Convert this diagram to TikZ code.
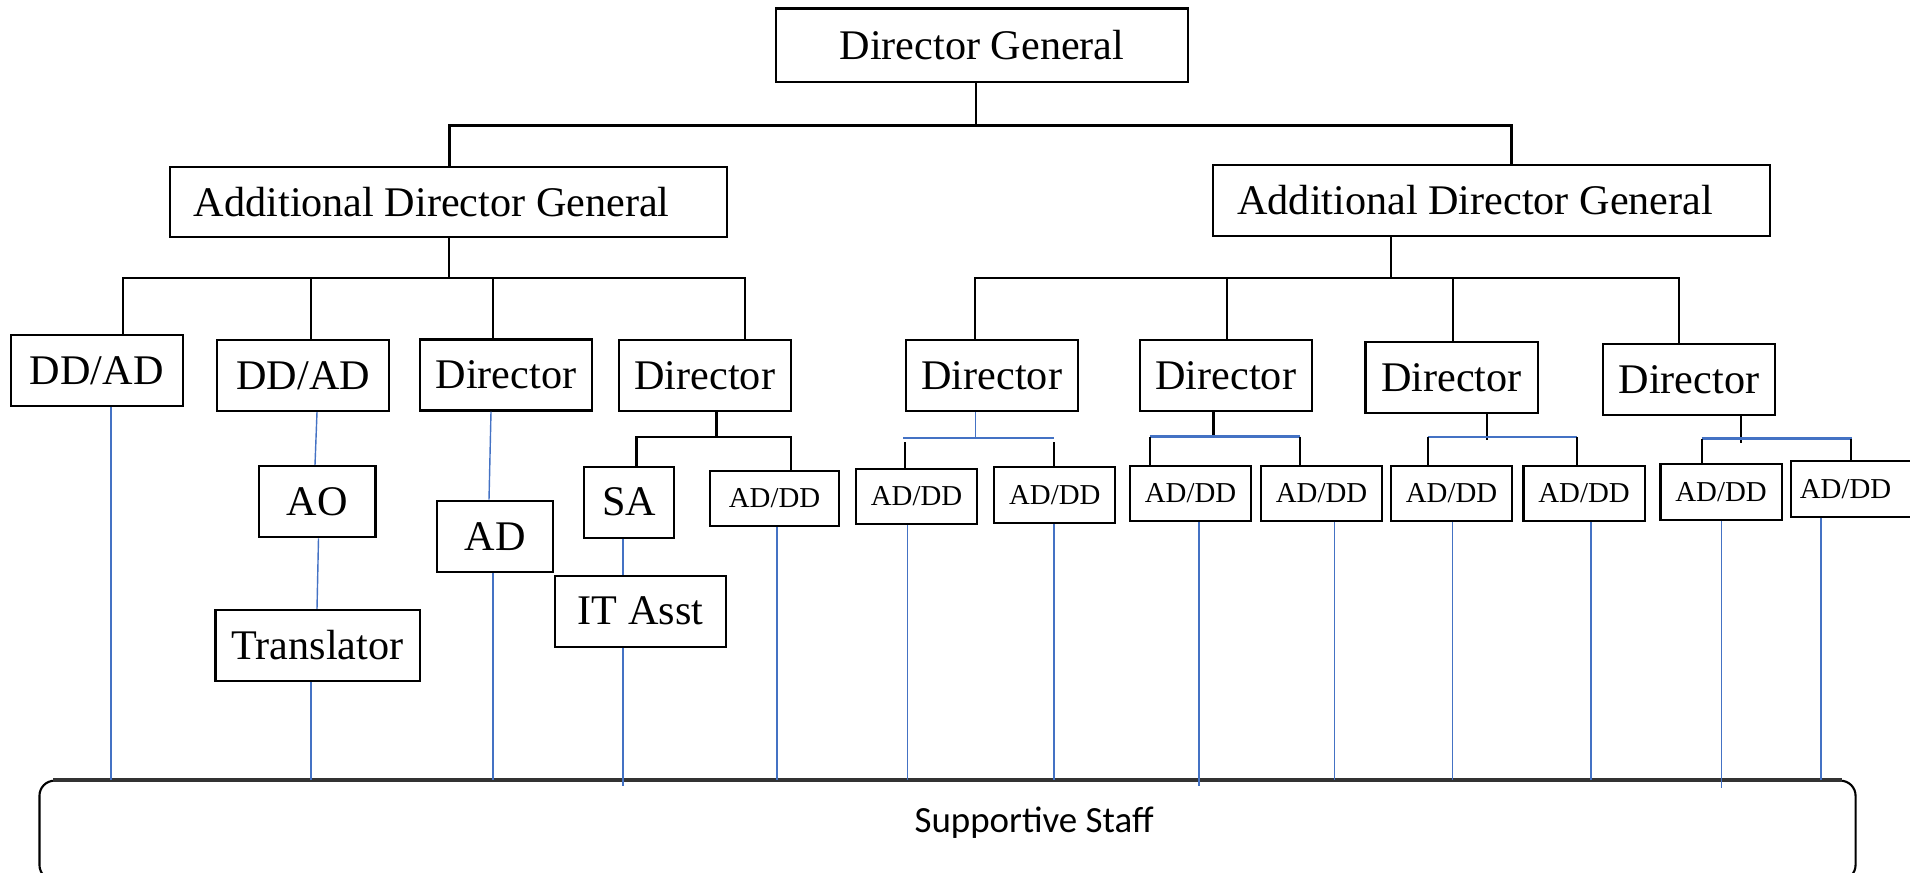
\documentclass[tikz,border=0pt]{standalone}
\usepackage{fontspec}
\setmainfont{Liberation Serif}
\newfontfamily\staffFont{Carlito}
\definecolor{linkblue}{HTML}{4472C4}
\begin{document}
\begin{tikzpicture}[x=0.01cm,y=-0.01cm,
  box/.style={draw, line width=0.6pt, inner sep=0pt, font=\fontsize{12}{14}\selectfont},
  midbox/.style={box, minimum width=1.72cm, minimum height=0.71cm},
  smallbox/.style={box, font=\fontsize{8.2}{10}\selectfont, minimum width=1.21cm, minimum height=0.55cm},
  blk/.style={line width=0.6pt},
  blu/.style={draw=linkblue, line width=0.4pt},
  bluebus/.style={draw=linkblue, line width=0.7pt}]
\useasboundingbox (0,0) rectangle (1910,872);
\clip (0,0) rectangle (1910,872);

% --- top levels ---
\node[box, minimum width=4.12cm, minimum height=0.735cm] (dg) at (982,45.25) {Director General};
\node[box, minimum width=5.565cm, minimum height=0.70cm] (adgL) at (448.75,202) {\hspace*{-0.34cm}Additional Director General};
\node[box, minimum width=5.565cm, minimum height=0.71cm] (adgR) at (1491.25,200.5) {\hspace*{-0.32cm}Additional Director General};

% --- third level ---
\node[midbox] (ddadA) at (96.75,370.5) {DD/AD};
\node[midbox] (ddadB) at (303.3,375.5) {DD/AD};
\node[midbox] (dirA) at (506,375) {Director};
\node[midbox] (dirB) at (704.75,375.5) {Director};
\node[midbox] (dirC) at (991.75,375.5) {Director};
\node[midbox] (dirD) at (1225.75,375.5) {Director};
\node[midbox] (dirE) at (1451.5,377.8) {Director};
\node[midbox] (dirF) at (1689,379.8) {Director};

% --- fourth level, left wing ---
\node[box, minimum width=1.165cm, minimum height=0.713cm] (ao) at (317.25,501.6) {AO};
\node[box, minimum width=2.04cm, minimum height=0.71cm] (trans) at (317.5,645.5) {Translator};
\node[box, minimum width=1.16cm, minimum height=0.71cm] (ad) at (495,536.2) {AD};
\node[box, minimum width=0.90cm, minimum height=0.71cm] (sa) at (629,502.2) {SA};
\node[box, minimum width=1.71cm, minimum height=0.71cm] (itasst) at (640.5,611.2) {IT Asst};
\node[smallbox, minimum width=1.29cm, minimum height=0.553cm] (addL) at (774.5,498.6) {AD/DD};

% --- fourth level, right wing ---
\node[smallbox] (r1) at (916.5,496.5) {AD/DD};
\node[smallbox, minimum height=0.56cm] (r2) at (1054.75,495) {AD/DD};
\node[smallbox] (r3) at (1190.5,493.5) {AD/DD};
\node[smallbox] (r4) at (1321.5,493.5) {AD/DD};
\node[smallbox] (r5) at (1451.5,493.5) {AD/DD};
\node[smallbox] (r6) at (1584,493.5) {AD/DD};
\node[smallbox, minimum height=0.56cm] (r7) at (1721,492) {AD/DD};
\node[smallbox, minimum height=0.56cm] (r8) at (1851.5,489) {\hspace*{-0.12cm}AD/DD};

% --- supportive staff ---
\node[draw, line width=0.6pt, rounded corners=0.15cm, minimum width=18.15cm, minimum height=0.993cm, inner sep=0pt,
      label={[font=\staffFont\fontsize{10.5}{12}\selectfont, xshift=0.865cm, yshift=0.08cm]center:Supportive Staff}]
      (staff) at (947.5,830.35) {};
% heavier top rule of the staff box
\draw[line width=1.1pt, black!80] ([xshift=0.15cm]staff.north west) -- ([xshift=-0.15cm]staff.north east);

% --- Director General to the two ADGs ---
\draw[blk] (976,0 |- dg.south) -- (976,125.5);
\draw[blk] (449.5,0 |- adgL.north) |- (1511.5,125.5) -- (1511.5,0 |- adgR.north);

% --- left ADG to its four heads ---
\draw[blk] (449,0 |- adgL.south) -- (449,278.3);
\draw[blk] (123,0 |- ddadA.north) |- (745,278.3) -- (745,0 |- dirB.north);
\draw[blk] (311,278.3) -- (311,0 |- ddadB.north);
\draw[blk] (493,278.3) -- (493,0 |- dirA.north);

% --- right ADG to its four directors ---
\draw[blk] (1390.8,0 |- adgR.south) -- (1390.8,278.3);
\draw[blk] (975,0 |- dirC.north) |- (1678.6,278.3) -- (1678.6,0 |- dirF.north);
\draw[blk] (1227,278.3) -- (1227,0 |- dirD.north);
\draw[blk] (1452.6,278.3) -- (1452.6,0 |- dirE.north);

% --- director (left wing) to SA and AD/DD ---
\draw[blk] (716.5,0 |- dirB.south) -- (716.5,436.7);
\draw[blk] (636.5,0 |- sa.north) |- (790.8,436.7) -- (790.8,0 |- addL.north);

% --- right-wing directors to their AD/DD pairs ---
\draw[blu] (975.7,0 |- dirC.south) -- (975.7,438);
\draw[bluebus] (903.4,438) -- (1054,438);
\draw[blk] (904.8,442) -- (904.8,0 |- r1.north);
\draw[blk] (1054,442) -- (1054,0 |- r2.north);

\draw[blk] (1213.5,0 |- dirD.south) -- (1213.5,436.7);
\draw[bluebus] (1149.5,436.7) -- (1299.7,436.7);
\draw[blk] (1150,436.7) -- (1150,0 |- r3.north);
\draw[blk] (1299.7,436.7) -- (1299.7,0 |- r4.north);

\draw[blk] (1487,0 |- dirE.south) -- (1487,440);
\draw[bluebus] (1427.6,437) -- (1577,437);
\draw[blk] (1428,437) -- (1428,0 |- r5.north);
\draw[blk] (1577,437) -- (1577,0 |- r6.north);

\draw[blk] (1741,0 |- dirF.south) -- (1741,443);
\draw[bluebus] (1701.5,438.7) -- (1852,438.7);
\draw[blk] (1702,438.7) -- (1702,0 |- r7.north);
\draw[blk] (1851,438.7) -- (1851,0 |- r8.north);

% --- reporting lines down to supportive staff ---
\draw[blu] (110.9,0 |- ddadA.south) -- (110.9,0 |- staff.north);
\draw[blu] (317,0 |- ddadB.south) -- (315,0 |- ao.north);
\draw[blu] (318.5,0 |- ao.south) -- (317,0 |- trans.north);
\draw[blu] (311,0 |- trans.south) -- (311,0 |- staff.north);
\draw[blu] (491,0 |- dirA.south) -- (489,0 |- ad.north);
\draw[blu] (493,0 |- ad.south) -- (493,0 |- staff.north);
\draw[blu] (623,0 |- sa.south) -- (623,0 |- itasst.north);
\draw[blu] (623,0 |- itasst.south) -- (623,786);
\draw[blu] (777,0 |- addL.south) -- (777,0 |- staff.north);
\draw[blu] (907.6,0 |- r1.south) -- (907.6,0 |- staff.north);
\draw[blu] (1054,0 |- r2.south) -- (1054,0 |- staff.north);
\draw[blu] (1199,0 |- r3.south) -- (1199,786);
\draw[blu] (1334.5,0 |- r4.south) -- (1334.5,0 |- staff.north);
\draw[blu] (1452.6,0 |- r5.south) -- (1452.6,0 |- staff.north);
\draw[blu] (1591,0 |- r6.south) -- (1591,0 |- staff.north);
\draw[blu] (1721.5,0 |- r7.south) -- (1721.5,788);
\draw[blu] (1821,0 |- r8.south) -- (1821,0 |- staff.north);
\end{tikzpicture}
\end{document}
